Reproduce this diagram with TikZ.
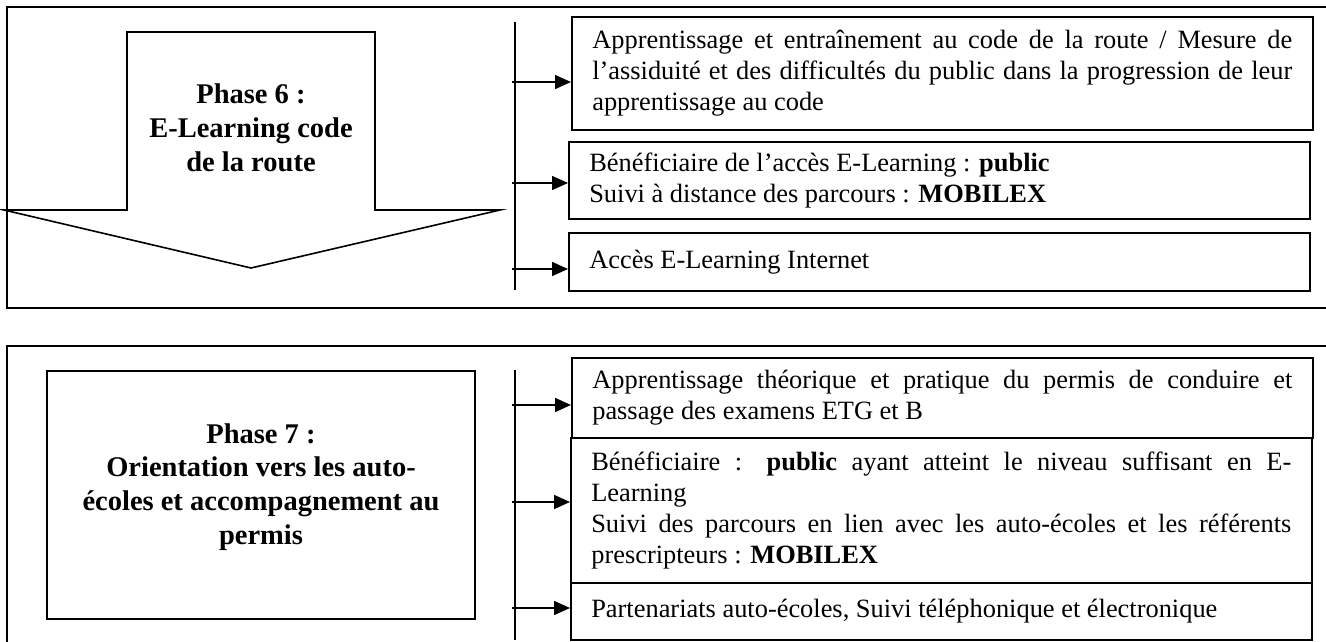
\documentclass[tikz,border=0pt]{standalone}
\usepackage{fontspec}
\setmainfont{Liberation Serif}
\usepackage{tikz}
\usetikzlibrary{arrows.meta}
\tikzset{>={Triangle[length=16pt,width=14pt]}}
\tikzset{txtbox/.style={draw,line width=1.6pt,anchor=north west,minimum height=#1,
    text width=700pt,inner xsep=20.5pt,inner ysep=2pt,align=justify,
    font=\fontsize{26.4}{31}\selectfont},
  phase/.style={align=center,font=\bfseries\fontsize{28.5}{33.8}\selectfont}}

\begin{document}
\begin{tikzpicture}[x=1pt,y=-1pt,line width=1.6pt]
    \useasboundingbox (0,0) rectangle (1326,642);

    % phase 6
    \draw[line width=2.2pt] (1330,7)--(7,7)--(7,308)--(1330,308);
    \draw (127,32)--(375,32)--(375,210)--(500,210)--(251,268)--(4,210)--(127,210)--cycle;
    \node[phase] at (251,128) (p6) {Phase 6 :\\E-Learning code\\de la route};
    \node[txtbox=113pt] at (571,16) (a1) {Apprentissage et entraînement au code de la route / Mesure de\linebreak
      l’assiduité et des difficultés du public dans la progression de leur\linebreak apprentissage au code};
    \node[txtbox=77pt] at (568,141) (a2) {Bénéficiaire de l’accès E-Learning : \textbf{public}\\
      Suivi à distance des parcours : \textbf{MOBILEX}};
    \node[txtbox=58pt] at (568,232) (a3) {Accès E-Learning Internet};
    \coordinate (v6a) at (515,22);
    \coordinate (v6b) at (515,290);
    \draw (v6a)--(v6b);
    \coordinate (s1) at (512,82);
    \coordinate (s2) at (512,183);
    \coordinate (s3) at (512,269);
    \draw[->] (s1)--(s1 -| a1.west);
    \draw[->] (s2)--(s2 -| a2.west);
    \draw[->] (s3)--(s3 -| a3.west);

    % phase 7
    \draw[line width=2.2pt] (1330,346)--(7,346)--(7,646);
    \node[phase,draw,minimum width=428pt,minimum height=248pt,text depth=22pt] at (261,495) (p7)
      {Phase 7 :\\Orientation vers les auto-\\écoles et accompagnement au\\permis};
    \node[txtbox=80pt] at (571,357) (b1) {Apprentissage théorique et pratique du permis de conduire et\linebreak
      passage des examens ETG et B};
    \node[txtbox=145pt] at (570,437) (b2) {Bénéficiaire : \textbf{public} ayant atteint le niveau suffisant en E-\linebreak
      Learning\\ Suivi des parcours en lien avec les auto-écoles et les référents\linebreak
      prescripteurs : \textbf{MOBILEX}};
    \node[txtbox=57pt] at (570,582) (b3) {Partenariats auto-écoles, Suivi téléphonique et électronique};
    \coordinate (v7a) at (515,370);
    \coordinate (v7b) at (515,640);
    \draw (v7a)--(v7b);
    \coordinate (t1) at (512,405);
    \coordinate (t2) at (512,502);
    \coordinate (t3) at (512,608);
    \draw[->] (t1)--(t1 -| b1.west);
    \draw[->] (t2)--(t2 -| b2.west);
    \draw[->] (t3)--(t3 -| b3.west);
\end{tikzpicture}
\end{document}
